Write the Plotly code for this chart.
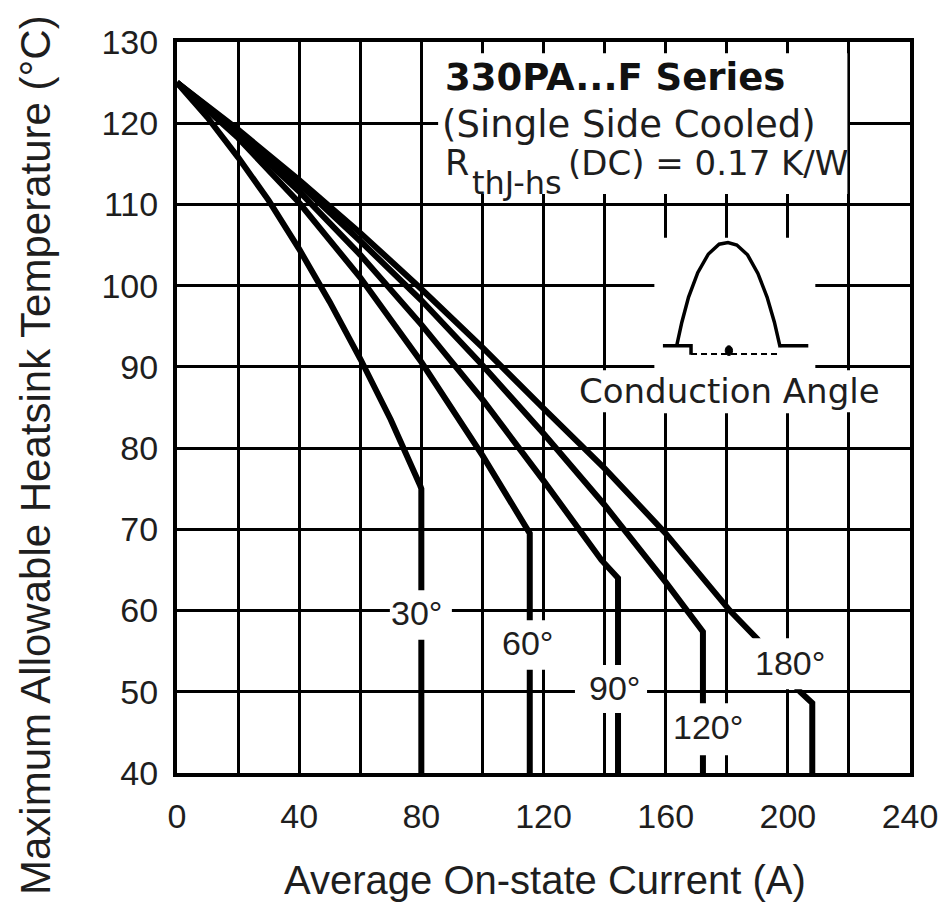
import plotly.graph_objects as go

# ---------------- data ----------------
x_30 = [0, 10, 20, 30, 40, 50, 60, 70, 79.5, 80, 80]
y_30 = [125, 120.7, 115.8, 110.5, 104.5, 98, 91, 83.5, 75.5, 75, 40]

x_60 = [0, 20, 40, 60, 80, 100, 115.5, 115.5]
y_60 = [125, 118.2, 110.2, 101, 90.6, 79.1, 69.5, 40]

x_90 = [0, 20, 40, 60, 80, 100, 120, 139, 144.4, 144.4]
y_90 = [125, 118.6, 111.6, 103.8, 95.2, 86, 76, 66.2, 64, 40]

x_120 = [0, 20, 40, 60, 80, 100, 120, 140, 160, 172.2, 172.2]
y_120 = [125, 119, 112.5, 105.5, 98.2, 90.2, 81.8, 73, 63.5, 57.4, 40]

x_180 = [0, 20, 40, 60, 80, 100, 120, 140, 160, 181, 190, 204, 208, 208]
y_180 = [125, 119.2, 113, 106.5, 99.6, 92.4, 84.9, 77.5, 69.5, 60, 56.5, 50, 48.6, 40]

x_ticks = [0, 40, 80, 120, 160, 200, 240]
y_ticks = [40, 50, 60, 70, 80, 90, 100, 110, 120, 130]

angle_labels = ["30°", "60°", "90°", "120°", "180°"]
label_x = [78.3, 114.6, 143.4, 173.9, 200.7]
label_y = [59.7, 56.0, 50.5, 45.7, 53.5]
# white knock-out boxes behind each label: (x0, x1, y0, y1)
label_box = [(69.7, 90.0, 56.4, 62.5),
             (105.8, 124.4, 52.7, 58.8),
             (130.3, 153.9, 47.4, 53.3),
             (160.8, 187.0, 42.2, 48.6),
             (186.0, 217.0, 50.3, 56.6)]

# conduction-angle icon (half sine pulse)
icon_x = [163.6, 165.3, 167.5, 170.5, 174.0, 177.5, 180.4, 183.3, 186.8, 190.2, 193.2, 195.6, 197.5]
icon_y = [92.6, 95.5, 98.6, 101.6, 103.9, 105.1, 105.3, 105.0, 103.8, 101.5, 98.6, 95.5, 92.4]
base_left_x = [159.1, 168.3, 168.3]
base_left_y = [92.6, 92.6, 91.5]
base_mid_x = [168.3, 197.5]
base_mid_y = [91.6, 91.6]
base_right_x = [197.5, 206.7]
base_right_y = [92.6, 92.6]
dot_xy = (180.7, 92.0)

fig = go.Figure()

curves = [(x_30, y_30), (x_60, y_60), (x_90, y_90), (x_120, y_120), (x_180, y_180)]
for xs, ys in curves:
    fig.add_trace(go.Scatter(x=xs, y=ys, mode="lines",
                             line=dict(color="black", width=6),
                             hoverinfo="skip", showlegend=False))

shapes = []
def white_rect(x0, x1, y0, y1):
    shapes.append(dict(type="rect", xref="x", yref="y", x0=x0, x1=x1, y0=y0, y1=y1,
                       fillcolor="white", line=dict(width=0), layer="above"))

# text block box, icon box, "Conduction Angle" box
white_rect(85.5, 219.5, 111.3, 128.6)
white_rect(156.3, 209.0, 84.3, 105.9)
white_rect(132.0, 230.0, 84.4, 89.6)
for b in label_box:
    white_rect(*b)

def poly(xs, ys):
    return "M " + " L ".join(f"{a},{b}" for a, b in zip(xs, ys))

shapes.append(dict(type="path", xref="x", yref="y", path=poly(icon_x, icon_y),
                   line=dict(color="black", width=3.5), layer="above"))
shapes.append(dict(type="path", xref="x", yref="y", path=poly(base_left_x, base_left_y),
                   line=dict(color="black", width=3.5), layer="above"))
shapes.append(dict(type="path", xref="x", yref="y", path=poly(base_right_x, base_right_y),
                   line=dict(color="black", width=3.5), layer="above"))
shapes.append(dict(type="path", xref="x", yref="y", path=poly(base_mid_x, base_mid_y),
                   line=dict(color="black", width=2, dash="6px,4px"), layer="above"))
shapes.append(dict(type="circle", xref="x", yref="y",
                   x0=dot_xy[0] - 1.2, x1=dot_xy[0] + 1.2, y0=dot_xy[1] - 0.6, y1=dot_xy[1] + 0.6,
                   fillcolor="black", line=dict(color="black", width=1), layer="above"))

TXT = "#1e1e1e"
ann = []
for t, lx, ly in zip(angle_labels, label_x, label_y):
    ann.append(dict(x=lx, y=ly, xref="x", yref="y", text=t, showarrow=False,
                    xanchor="center", yanchor="middle",
                    font=dict(family="Liberation Sans", size=34, color=TXT)))

ann.append(dict(x=87.0, y=125.6, xref="x", yref="y", text="<b>330PA...F Series</b>",
                showarrow=False, xanchor="left", yanchor="middle",
                font=dict(family="DejaVu Sans", size=37, color="#111")))
ann.append(dict(x=86.0, y=119.8, xref="x", yref="y", text="(Single Side Cooled)",
                showarrow=False, xanchor="left", yanchor="middle",
                font=dict(family="DejaVu Sans", size=37, color=TXT)))
ann.append(dict(x=87.0, y=115.1, xref="x", yref="y", text="R",
                showarrow=False, xanchor="left", yanchor="middle",
                font=dict(family="DejaVu Sans", size=35, color=TXT)))
ann.append(dict(x=96.0, y=112.7, xref="x", yref="y", text="thJ-hs",
                showarrow=False, xanchor="left", yanchor="middle",
                font=dict(family="DejaVu Sans", size=32, color=TXT)))
ann.append(dict(x=127.5, y=115.1, xref="x", yref="y", text="(DC) = 0.17 K/W",
                showarrow=False, xanchor="left", yanchor="middle",
                font=dict(family="DejaVu Sans", size=34, color=TXT)))
ann.append(dict(x=181.0, y=87.0, xref="x", yref="y", text="Conduction Angle",
                showarrow=False, xanchor="center", yanchor="middle",
                font=dict(family="DejaVu Sans", size=34, color=TXT)))

ann.append(dict(x=-0.1937, y=0.435, xref="paper", yref="paper",
                text="Maximum Allowable Heatsink Temperature (°C)", textangle=-90,
                showarrow=False, xanchor="center", yanchor="middle",
                font=dict(family="Liberation Sans", size=42, color=TXT)))
ann.append(dict(x=0.502, y=-0.1464, xref="paper", yref="paper",
                text="Average On-state Current (A)",
                showarrow=False, xanchor="center", yanchor="middle",
                font=dict(family="Liberation Sans", size=40, color=TXT)))

fig.update_layout(
    width=950, height=913,
    margin=dict(l=177, r=40, t=42, b=140),
    paper_bgcolor="white", plot_bgcolor="white",
    shapes=shapes, annotations=ann,
    showlegend=False,
)
fig.update_xaxes(range=[0, 240], tickvals=x_ticks, ticktext=[str(v) for v in x_ticks],
                 showgrid=True, gridcolor="black", gridwidth=3,
                 minor=dict(dtick=20, tick0=0, showgrid=True, gridcolor="black", gridwidth=3),
                 zeroline=False, showline=True, linecolor="black", linewidth=4, mirror=True,
                 ticks="", ticklabelstandoff=10,
                 tickfont=dict(family="Liberation Sans", size=34, color=TXT))
fig.update_yaxes(range=[40, 130], tickvals=y_ticks, ticktext=[str(v) for v in y_ticks],
                 showgrid=True, gridcolor="black", gridwidth=3,
                 zeroline=False, showline=True, linecolor="black", linewidth=4, mirror=True,
                 ticks="", ticklabelstandoff=8,
                 tickfont=dict(family="Liberation Sans", size=34, color=TXT))

fig.write_html("out.html")
